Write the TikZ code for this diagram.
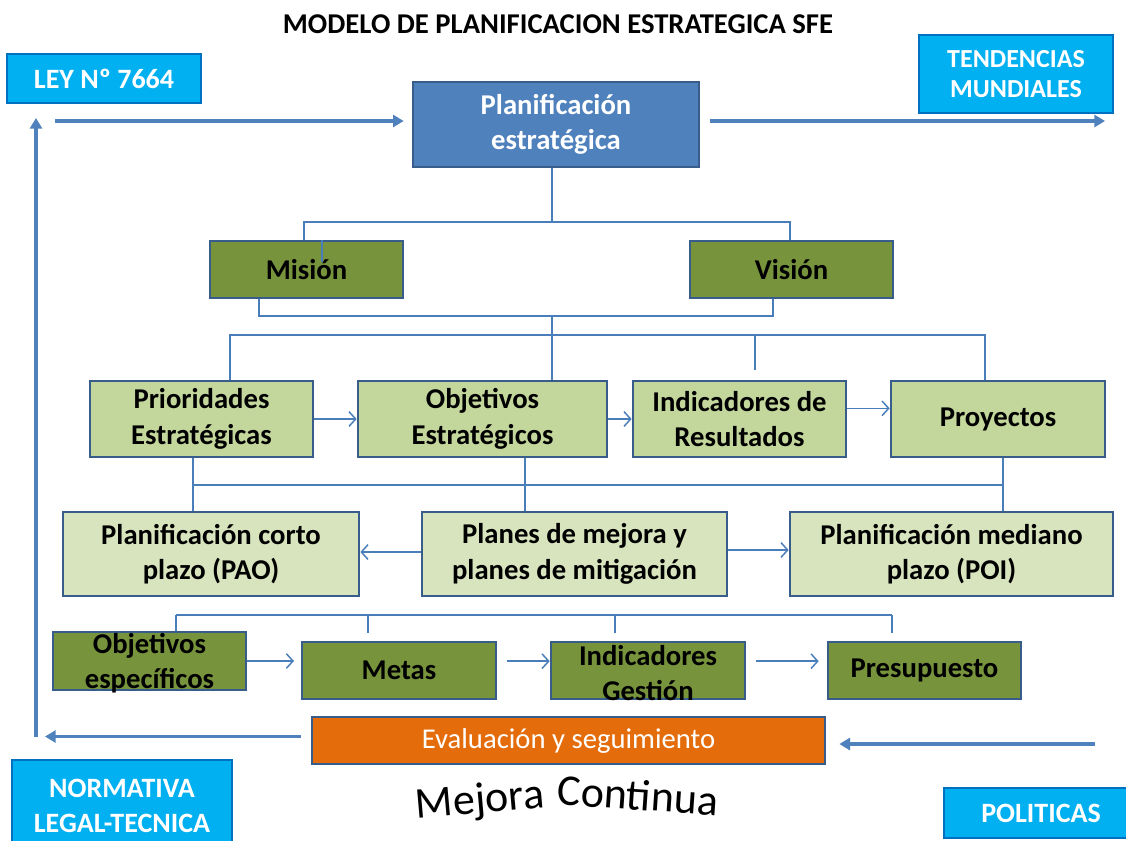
\documentclass[tikz,border=0pt]{standalone}
\usepackage{fontspec}
\setmainfont{Carlito}
\usetikzlibrary{arrows.meta}
\definecolor{cyanf}{HTML}{00B0F0}
\definecolor{cyanb}{HTML}{0070C0}
\definecolor{bluef}{HTML}{4F81BD}
\definecolor{blueb}{HTML}{385D8A}
\definecolor{dgreen}{HTML}{77933C}
\definecolor{lgreen}{HTML}{C3D69B}
\definecolor{llgreen}{HTML}{D7E4BD}
\definecolor{orangef}{HTML}{E46C0A}
\definecolor{linec}{HTML}{4A7EBB}
\tikzset{
  basebox/.style={rectangle, inner sep=0pt, line width=2pt, align=center},
  cyanbox/.style={basebox, fill=cyanf, draw=cyanb, text=white, font=\bfseries\fontsize{21}{26}\selectfont},
  planbox/.style={basebox, fill=bluef, draw=blueb, text=white, font=\bfseries\fontsize{21.5}{26.5}\selectfont},
  dgbox/.style={basebox, fill=dgreen, draw=blueb, text=black, font=\bfseries\fontsize{21.5}{26.5}\selectfont},
  lgbox/.style={basebox, fill=lgreen, draw=blueb, text=black, font=\bfseries\fontsize{21.5}{26.5}\selectfont},
  llgbox/.style={basebox, fill=llgreen, draw=blueb, text=black, font=\bfseries\fontsize{21.5}{26.5}\selectfont},
  evbox/.style={basebox, fill=orangef, draw=blueb, text=white, font=\fontsize{21.5}{25}\selectfont},
  txtb/.style={inner sep=0pt, align=center, font=\bfseries\fontsize{21.5}{26.5}\selectfont},
  mctext/.style={inner sep=0pt, anchor=base, font=\fontsize{33}{40}\selectfont},
  conn/.style={draw=linec, line width=1.1pt},
  tarr/.style={conn, -{Straight Barb[length=5pt,width=11pt]}},
  bigarr/.style={draw=bluef, line width=2.6pt, -{Triangle[length=8pt,width=9pt]}},
}
\begin{document}
\begin{tikzpicture}[x=0.75pt,y=-0.75pt]
\useasboundingbox (0,0) rectangle (1126,840);
\fill[white] (0,0) rectangle (1126,840);

\node[font=\bfseries\fontsize{21.5}{25}\selectfont] (title) at (558,24) {MODELO DE PLANIFICACION ESTRATEGICA SFE};

% side boxes
\node[cyanbox, minimum width=194*0.75pt, minimum height=49*0.75pt] (ley) at (104,78.5) {LEY Nº 7664};
\node[cyanbox, font=\bfseries\fontsize{19.5}{22.5}\selectfont, minimum width=194*0.75pt, minimum height=78*0.75pt] (tend) at (1016,74) {TENDENCIAS\\MUNDIALES};
\node[cyanbox, minimum width=220*0.75pt, minimum height=92*0.75pt] (norm) at (122,806) {NORMATIVA\\LEGAL-TECNICA};
\node[cyanbox, minimum width=194*0.75pt, minimum height=50*0.75pt] (pol) at (1041,813) {POLITICAS};

% main boxes
\node[planbox, minimum width=286*0.75pt, minimum height=85*0.75pt] (plan) at (556,124.5) {Planificación\\estratégica};
\node[dgbox, minimum width=193*0.75pt, minimum height=57*0.75pt] (mis) at (306.5,269.5) {Misión};
\node[dgbox, minimum width=203*0.75pt, minimum height=57*0.75pt] (vis) at (791.5,269.5) {Visión};

\node[lgbox, minimum width=223*0.75pt, minimum height=76*0.75pt] (prio) at (201.5,419) {Prioridades\\Estratégicas};
\node[lgbox, minimum width=249*0.75pt, minimum height=76*0.75pt] (obj) at (482.5,419) {Objetivos\\Estratégicos};
\node[lgbox, minimum width=213*0.75pt, minimum height=76*0.75pt] (ind) at (739.5,419) {Indicadores de\\Resultados};
\node[lgbox, minimum width=214*0.75pt, minimum height=76*0.75pt] (proy) at (998,419) {Proyectos};

\node[llgbox, minimum width=296*0.75pt, minimum height=84*0.75pt] (pao) at (211,554) {Planificación corto\\plazo (PAO)};
\node[llgbox, minimum width=305*0.75pt, minimum height=84*0.75pt] (pla) at (574.5,554) {Planes de mejora y\\planes de mitigación};
\node[llgbox, minimum width=323*0.75pt, minimum height=84*0.75pt] (poi) at (951.5,554) {Planificación mediano\\plazo (POI)};

\node[dgbox, minimum width=193*0.75pt, minimum height=58*0.75pt] (oesp) at (149.5,661) {};
\node[txtb] (oespt) at (149.5,663) {Objetivos\\específicos};
\node[dgbox, minimum width=194*0.75pt, minimum height=57*0.75pt] (met) at (399,670.5) {Metas};
\node[dgbox, minimum width=194*0.75pt, minimum height=57*0.75pt] (ig) at (648,670.5) {};
\node[txtb] (igt) at (648,673) {Indicadores\\Gestión};
\node[dgbox, minimum width=193*0.75pt, minimum height=57*0.75pt] (pres) at (924.5,670.5) {Presupuesto};

\node[evbox, minimum width=513*0.75pt, minimum height=47*0.75pt] (eval) at (568.5,740.5) {Evaluación y seguimiento};

% tree connectors
\coordinate (j1) at (552,222);
\coordinate (h1L) at (304,222);
\coordinate (h1R) at (790,222);
\coordinate (mt) at (322,262);
\draw[conn] (plan.south -| j1) -- (j1);
\draw[conn] (mis.north -| h1L) -- (h1L) -- (h1R) -- (vis.north -| h1R);
\draw[conn] (mis.north -| mt) -- (mt);

\coordinate (h2L) at (259,316);
\coordinate (h2R) at (773,316);
\coordinate (h2M) at (552,316);
\draw[conn] (mis.south -| h2L) -- (h2L) -- (h2R) -- (vis.south -| h2R);
\draw[conn] (h2M) -- (obj.north -| h2M);

\coordinate (h3L) at (230,335);
\coordinate (h3R) at (985,335);
\coordinate (h3I) at (755,335);
\coordinate (iT) at (755,370);
\draw[conn] (prio.north -| h3L) -- (h3L) -- (h3R) -- (proy.north -| h3R);
\draw[conn] (h3I) -- (iT);

\draw[tarr] (prio.east) -- (obj.west);
\draw[tarr] (obj.east) -- (ind.west);
\draw[tarr] ([yshift=8pt]ind.east) -- ([yshift=8pt]proy.west);

\coordinate (v1) at (193,485);
\coordinate (v2) at (525,485);
\coordinate (v3) at (1003,485);
\draw[conn] (prio.south -| v1) -- (pao.north -| v1);
\draw[conn] (obj.south -| v2) -- (pla.north -| v2);
\draw[conn] (proy.south -| v3) -- (poi.north -| v3);
\draw[conn] (v1) -- (v3);

\draw[tarr] ([yshift=1.5pt]pla.west) -- ([yshift=1.5pt]pao.east);
\draw[tarr] ([yshift=3pt]pla.east) -- ([yshift=3pt]poi.west);

\coordinate (w1) at (176,615);
\coordinate (w2) at (368,615);
\coordinate (w3) at (615,615);
\coordinate (w4) at (892,615);
\draw[conn] (w1) -- (w4);
\draw[conn] (w1) -- (oesp.north -| w1);
\draw[conn] (w2) -- ++(0,18);
\draw[conn] (w3) -- ++(0,18);
\draw[conn] (w4) -- ++(0,18);

\draw[tarr, shorten >=5pt] (oesp.east) -- (oesp.east -| met.west);
\draw[tarr, shorten <=7pt] ([yshift=7pt]met.east) -- ([yshift=7pt]ig.west);
\draw[tarr, shorten <=7.5pt, shorten >=6pt] ([yshift=7pt]ig.east) -- ([yshift=7pt]pres.west);

% thick arrows
\coordinate (a1) at (55,121);
\coordinate (a2) at (1105,121);
\coordinate (vb) at (36,737);
\coordinate (vt) at (36,118);
\coordinate (ea) at (45,738);
\coordinate (eb) at (1095,744);
\draw[bigarr, shorten >=6pt] (a1) -- (plan.west |- a1);
\draw[bigarr, shorten <=7pt] (plan.east |- a2) -- (a2);
\draw[bigarr] (vb) -- (vt);
\draw[bigarr, shorten <=7.5pt] ([yshift=3pt]eval.west) -- ([yshift=3pt]eval.west -| ea);
\draw[bigarr, shorten >=9.75pt] (eb) -- (eval.east |- eb);

% Mejora Continua (slight arch)
\node[mctext, rotate=5] (mc1) at (481,813) {Mejora};
\node[mctext, rotate=-4] (mc2) at (637,810) {Continua};
\end{tikzpicture}
\end{document}
